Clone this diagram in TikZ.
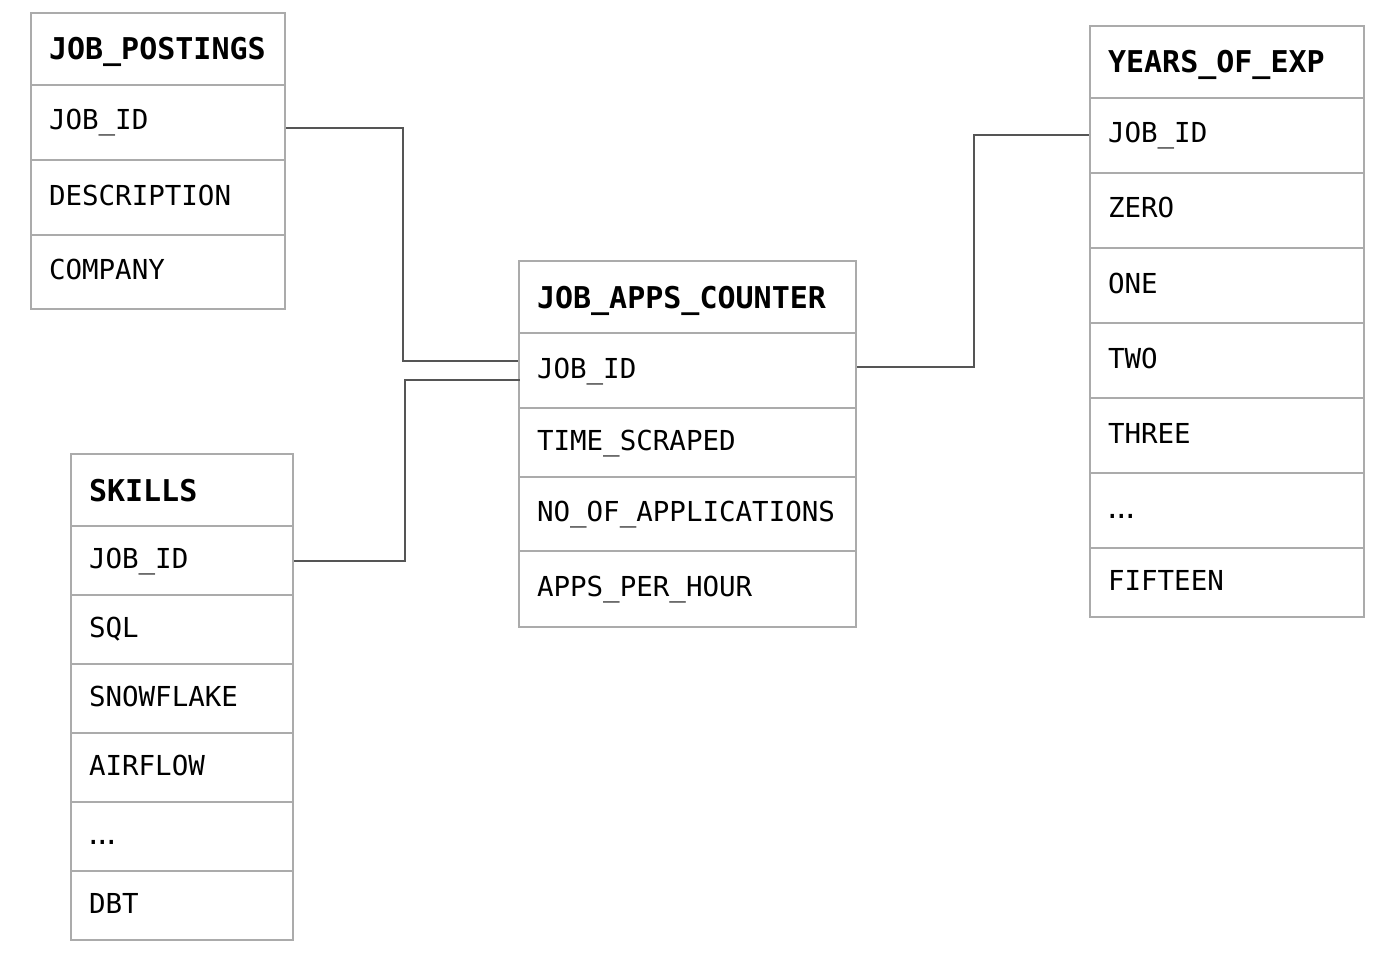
\documentclass[tikz,border=0pt]{standalone}
\usepackage{fontspec}
\setmonofont{DejaVu Sans Mono}
\definecolor{bordergray}{HTML}{ABABAB}
\definecolor{conngray}{HTML}{555555}
\newcommand{\bodyfnt}{\ttfamily\fontsize{27.5}{33}\selectfont}
\newcommand{\headfnt}{\ttfamily\bfseries\fontsize{30}{36}\selectfont}
\newcommand{\tightdots}{\kern-4pt.\kern-7.5pt.\kern-7.5pt.}
\tikzset{
  cell/.style={draw=bordergray, line width=2pt, rectangle, anchor=north west,
    inner xsep=18pt, inner ysep=0pt, align=left, font=\bodyfnt,
    text height=20pt, text depth=5pt},
  head/.style={cell, font=\headfnt, text height=22pt, text depth=0pt},
  conn/.style={draw=conngray, line width=2pt},
  jp/.style={text width=218pt},
  sk/.style={text width=186pt},
  ja/.style={text width=301pt},
  ye/.style={text width=238pt}
}
\begin{document}
\begin{tikzpicture}[x=1pt,y=-1pt]
\useasboundingbox (0,0) rectangle (1399,960);
% JOB_POSTINGS
\node[head,jp,minimum height=72pt] (jp-h) at (30,12) {JOB\_POSTINGS};
\node[cell,jp,minimum height=75pt] (jp-id) at (30,84) {JOB\_ID};
\node[cell,jp,minimum height=75pt] (jp-desc) at (30,159) {DESCRIPTION};
\node[cell,jp,minimum height=74pt] (jp-comp) at (30,234) {COMPANY};
% SKILLS
\node[head,sk,minimum height=72pt] (sk-h) at (70,453) {SKILLS};
\node[cell,sk,minimum height=69pt] (sk-id) at (70,525) {JOB\_ID};
\node[cell,sk,minimum height=69pt] (sk-sql) at (70,594) {SQL};
\node[cell,sk,minimum height=69pt] (sk-snow) at (70,663) {SNOWFLAKE};
\node[cell,sk,minimum height=69pt] (sk-air) at (70,732) {AIRFLOW};
\node[cell,sk,minimum height=69pt] (sk-dots) at (70,801) {\tightdots};
\node[cell,sk,minimum height=69pt] (sk-dbt) at (70,870) {DBT};
% JOB_APPS_COUNTER
\node[head,ja,minimum height=72pt] (ja-h) at (518,260) {JOB\_APPS\_COUNTER};
\node[cell,ja,minimum height=75pt] (ja-id) at (518,332) {JOB\_ID};
\node[cell,ja,minimum height=69pt] (ja-time) at (518,407) {TIME\_SCRAPED};
\node[cell,ja,minimum height=74pt] (ja-no) at (518,476) {NO\_OF\_APPLICATIONS};
\node[cell,ja,minimum height=76pt] (ja-aph) at (518,550) {APPS\_PER\_HOUR};
% YEARS_OF_EXP
\node[head,ye,minimum height=72pt] (ye-h) at (1089,25) {YEARS\_OF\_EXP};
\node[cell,ye,minimum height=75pt] (ye-id) at (1089,97) {JOB\_ID};
\node[cell,ye,minimum height=75pt] (ye-zero) at (1089,172) {ZERO};
\node[cell,ye,minimum height=75pt] (ye-one) at (1089,247) {ONE};
\node[cell,ye,minimum height=75pt] (ye-two) at (1089,322) {TWO};
\node[cell,ye,minimum height=75pt] (ye-three) at (1089,397) {THREE};
\node[cell,ye,minimum height=75pt] (ye-dots) at (1089,472) {\tightdots};
\node[cell,ye,minimum height=69pt] (ye-fif) at (1089,547) {FIFTEEN};
% connectors
\draw[conn] ([yshift=-5.5pt]jp-id.east) -- ++(117,0) |- ([yshift=9.5pt]ja-id.west);
\draw[conn] (sk-id.east) -- ++(111,0) |- ([yshift=-9.5pt,xshift=2pt]ja-id.west);
\draw[conn] ([yshift=3.5pt]ja-id.east) -- ++(117,0) |- (ye-id.west);
\end{tikzpicture}
\end{document}
